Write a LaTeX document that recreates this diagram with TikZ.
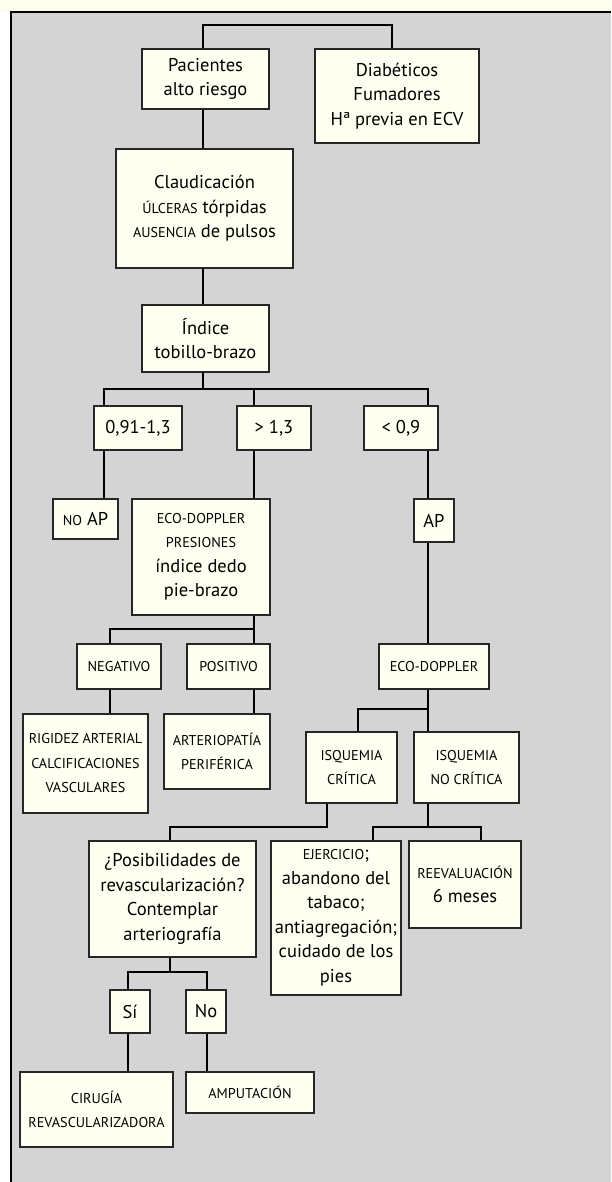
\documentclass[tikz,border=0pt]{standalone}
\usepackage{fontspec}
\setmainfont{PT Sans}
\definecolor{panel}{RGB}{212,212,212}
\definecolor{cream}{RGB}{255,255,242}
\definecolor{strip}{RGB}{255,255,240}
\newcommand\scx[1]{{\fontsize{14.2}{24}\selectfont #1}}
\begin{document}
\begin{tikzpicture}[x=1pt,y=-1pt,
  box/.style={draw=black!85, line width=1.2pt, fill=cream, align=center, inner sep=0pt,
    font={\fontsize{18.5}{24.5}\selectfont}},
  link/.style={line width=2.8pt, black}]
\useasboundingbox (0,0) rectangle (611,1182);
% background
\fill[strip] (0,0) rectangle (611,12);
\fill[panel] (11,12) rectangle (611,1182);
\draw[line width=1.5pt] (11,1182) -- (11,12) -- (611,12);

% x positions of connectors
\coordinate (x104) at (104,0);
\coordinate (x110) at (110,0);
\coordinate (x128) at (128,0);
\coordinate (x170) at (170,0);
\coordinate (x203) at (203,0);
\coordinate (x207) at (207,0);
\coordinate (x254) at (254,0);
\coordinate (x327) at (327,0);
\coordinate (x358) at (358,0);
\coordinate (x373) at (373,0);
\coordinate (x428) at (428,0);
\coordinate (x481) at (481,0);
% junctions
\coordinate (j0) at (392,25);
\coordinate (j1) at (203,389);
\coordinate (j2) at (254,629);
\coordinate (j3) at (428,709);
\coordinate (j4) at (327,827);
\coordinate (j5) at (428,827);
\coordinate (j6) at (170,972);

% nodes
\node[box, minimum width=127pt, minimum height=60pt] (pac) at (205.5,79) {Pacientes\\alto riesgo};
\node[box, minimum width=164pt, minimum height=94pt] (diab) at (397,96) {Diabéticos\\Fumadores\\Hª previa en ECV};
\node[box, minimum width=177pt, minimum height=119pt] (claud) at (204.5,208.5) {Claudicación\\\scx{ÚLCERAS} tórpidas\\\scx{AUSENCIA} de pulsos};
\node[box, minimum width=127pt, minimum height=67pt] (ind) at (205.5,338.5) {Índice\\tobillo-brazo};
\node[box, minimum width=88pt, minimum height=44pt] (r1) at (138,428) {0,91-1,3};
\node[box, minimum width=74pt, minimum height=44pt] (r2) at (274,428) {> 1,3};
\node[box, minimum width=74pt, minimum height=44pt] (r3) at (401,428) {< 0,9};
\node[box, minimum width=65pt, minimum height=40pt] (noap) at (85.5,519) {\scx{NO} AP};
\node[box, minimum width=138pt, minimum height=116pt] (eco1) at (201,557) {\scx{ECO-DOPPLER}\\\scx{PRESIONES}\\índice dedo\\pie-brazo};
\node[box, minimum width=40pt, minimum height=43pt] (ap) at (434,520.5) {AP};
\node[box, minimum width=84pt, minimum height=45pt] (neg) at (119,666.5) {\scx{NEGATIVO}};
\node[box, minimum width=83pt, minimum height=45pt] (pos) at (228.5,666.5) {\scx{POSITIVO}};
\node[box, minimum width=110pt, minimum height=45pt] (eco2) at (434,666.5) {\scx{ECO-DOPPLER}};
\node[box, minimum width=125pt, minimum height=99pt] (rig) at (85.5,763.5) {\scx{RIGIDEZ ARTERIAL}\\\scx{CALCIFICACIONES}\\\scx{VASCULARES}};
\node[box, minimum width=106pt, minimum height=75pt] (art) at (217,751.5) {\scx{ARTERIOPATÍA}\\\scx{PERIFÉRICA}};
\node[box, minimum width=91pt, minimum height=71pt] (isqc) at (351.5,767.5) {\scx{ISQUEMIA}\\\scx{CRÍTICA}};
\node[box, minimum width=105pt, minimum height=71pt] (isqnc) at (466.5,767.5) {\scx{ISQUEMIA}\\\scx{NO CRÍTICA}};
\node[box, minimum width=167pt, minimum height=116pt] (posib) at (172.5,899) {¿Posibilidades de\\revascularización?\\Contemplar\\arteriografía};
\node[box, minimum width=130pt, minimum height=154pt] (ejer) at (336,918) {\scx{EJERCICIO};\\abandono del\\tabaco;\\antiagregación;\\cuidado de los\\pies};
\node[box, minimum width=112pt, minimum height=87pt] (reev) at (465,884.5) {\scx{REEVALUACIÓN}\\6 meses};
\node[box, minimum width=40pt, minimum height=43pt] (si) at (130,1011.5) {Sí};
\node[box, minimum width=40pt, minimum height=43pt] (no) at (206,1011.5) {No};
\node[box, minimum width=153pt, minimum height=75pt] (cir) at (96.5,1109.5) {\scx{CIRUGÍA}\\\scx{REVASCULARIZADORA}};
\node[box, minimum width=128pt, minimum height=41pt] (amp) at (250,1092.5) {\scx{AMPUTACIÓN}};

% connectors
\draw[link] (pac.north -| x203) |- (j0) -- (diab.north -| j0);
\draw[link] (pac.south -| x203) -- (claud.north -| x203);
\draw[link] (claud.south -| x203) -- (ind.north -| x203);
\draw[link] (ind.south -| x203) -- (j1);
\draw[link] (r1.north -| x104) |- (j1) -| (r3.north -| x428);
\draw[link] (j1) -| (r2.north -| x254);
\draw[link] (r1.south -| x104) -- (noap.north -| x104);
\draw[link] (r2.south -| x254) -- (eco1.north -| x254);
\draw[link] (r3.south -| x428) -- (ap.north -| x428);
\draw[link] (eco1.south -| x254) -- (pos.north -| x254);
\draw[link] (j2) -| (neg.north -| x110);
\draw[link] (neg.south -| x110) -- (rig.north -| x110);
\draw[link] (pos.south -| x254) -- (art.north -| x254);
\draw[link] (ap.south -| x428) -- (eco2.north -| x428);
\draw[link] (eco2.south -| x428) -- (isqnc.north -| x428);
\draw[link] (j3) -| (isqc.north -| x358);
\draw[link] (isqc.south -| x327) -- (j4) -| (posib.north -| x170);
\draw[link] (isqnc.south -| x428) -- (j5);
\draw[link] (ejer.north -| x373) |- (j5) -| (reev.north -| x481);
\draw[link] (posib.south -| x170) -- (j6);
\draw[link] (si.north -| x128) |- (j6) -| (no.north -| x207);
\draw[link] (si.south -| x128) -- (cir.north -| x128);
\draw[link] (no.south -| x207) -- (amp.north -| x207);
\end{tikzpicture}
\end{document}
